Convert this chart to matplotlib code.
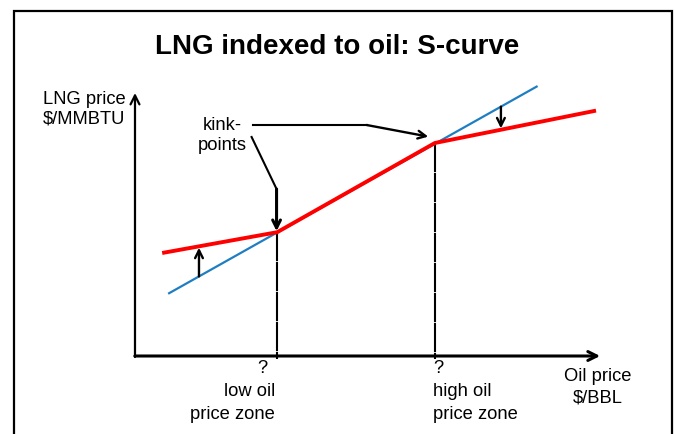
import numpy as np
import matplotlib
matplotlib.use("Agg")
import matplotlib.pyplot as plt
from matplotlib.patches import Rectangle

plt.rcParams['font.family'] = ['Liberation Sans', 'DejaVu Sans']

# oil price (arbitrary $/BBL units) vs LNG price (arbitrary $/MMBTU units)
oil_blue = [10.8, 127.1]            # straight oil-linked line
lng_blue = [3.14, 13.47]
oil_red = [8.6, 45.0, 94.9, 145.9]  # S-curve
lng_red = [5.15, 6.19, 10.65, 12.27]
kink_oil = [45.0, 94.9]
kink_lng = [6.19, 10.65]
up_arrow_oil = 20.25     # floor at low oil price
down_arrow_oil = 115.8   # cap at high oil price

blue = "#1f7ec2"
red = "#ff0000"
fs = 13.2

fig = plt.figure(figsize=(6.75, 4.35), dpi=100)
ax = fig.add_axes([0, 0, 1, 1])
ax.set_xlim(-42.72, 170.89)
ax.set_ylim(-3.9, 17.85)
ax.axis("off")

# frame round the slide
fig.add_artist(Rectangle((14 / 675, -0.05), (672 - 14) / 675, 1.05 - 12 / 435,
                         transform=fig.transFigure, fill=False, lw=1.6, ec="black"))

fig.text(0.499, 0.892, "LNG indexed to oil: S-curve", ha="center", va="center",
         fontsize=20, fontweight="bold")

# axes with arrows
arr = dict(arrowstyle="->", lw=1.6, color="black", mutation_scale=16, shrinkA=0, shrinkB=0)
ax.annotate("", xy=(0, 13.15), xytext=(0, -0.05), arrowprops=arr)
ax.annotate("", xy=(147.2, 0), xytext=(-0.05, 0), arrowprops=dict(arr, lw=2.2))

# dotted verticals at the kinks
for k, l in zip(kink_oil, kink_lng):
    ax.plot([k, k], [l, -0.15], color="black", lw=1.5, ls=(0, (14, 0.4)), zorder=1)

ax.plot(oil_blue, lng_blue, color=blue, lw=1.6, zorder=2)
ax.plot(oil_red, lng_red, color=red, lw=2.8, zorder=3, solid_capstyle="butt")

# floor / cap arrows between the lines
small = dict(arrowstyle="->", lw=1.7, color="black", mutation_scale=14, shrinkA=0, shrinkB=1)
for xo in [up_arrow_oil, down_arrow_oil]:
    yb = np.interp(xo, oil_blue, lng_blue)
    yr = np.interp(xo, oil_red, lng_red)
    ax.annotate("", xy=(xo, yr), xytext=(xo, yb), arrowprops=small, zorder=4)

# kink-points label and leaders
ax.text(27.5, 11.6, "kink-", ha="center", va="center", fontsize=fs)
ax.text(27.5, 10.6, "points", ha="center", va="center", fontsize=fs)
ax.plot([37.3, 73.3], [11.55, 11.55], color="black", lw=1.5)
ax.annotate("", xy=(kink_oil[1] - 2.1, kink_lng[1] + 0.32), xytext=(73.3, 11.55),
            arrowprops=dict(small, shrinkB=0))
ax.plot([36.9, kink_oil[0] - 0.2, kink_oil[0] - 0.2], [10.95, 8.35, 8.2], color="black", lw=1.5)
ax.annotate("", xy=(kink_oil[0] - 0.2, kink_lng[0] + 0.05), xytext=(kink_oil[0] - 0.2, 8.35),
            arrowprops=dict(small, lw=2.2, shrinkB=0))

# axis titles
ax.text(-29.1, 12.9, "LNG price", ha="left", va="center", fontsize=fs)
ax.text(-29.1, 11.9, "$/MMBTU", ha="left", va="center", fontsize=fs)
ax.text(146.4, -0.99, "Oil price", ha="center", va="center", fontsize=fs)
ax.text(146.4, -2.05, "$/BBL", ha="center", va="center", fontsize=fs)

# zone labels under the kinks
ax.text(kink_oil[0] - 4.8, -0.6, "?", ha="center", va="center", fontsize=fs)
ax.text(kink_oil[0] - 0.7, -1.74, "low oil", ha="right", va="center", fontsize=fs)
ax.text(kink_oil[0] - 0.7, -2.9, "price zone", ha="right", va="center", fontsize=fs)
ax.text(kink_oil[1] - 0.6, -0.6, "?", ha="left", va="center", fontsize=fs)
ax.text(kink_oil[1] - 0.6, -1.74, "high oil", ha="left", va="center", fontsize=fs)
ax.text(kink_oil[1] - 0.6, -2.9, "price zone", ha="left", va="center", fontsize=fs)

fig.savefig("out.png", dpi=100)
